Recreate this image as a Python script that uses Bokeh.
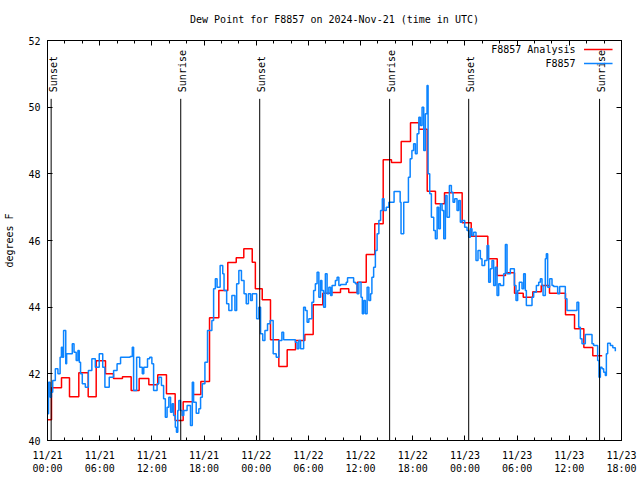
import numpy as np
from bokeh.plotting import figure
from bokeh.models import FixedTicker, LinearAxis, Range1d, Label, Arrow, CustomLabelingPolicy
from bokeh.core.properties import value
from bokeh.embed import file_html
from bokeh.resources import INLINE

FONT = "DejaVu Sans Mono"

# ---------------- data ----------------
title_text = "Dew Point for F8857 on 2024-Nov-21 (time in UTC)"
y_label = "degrees F"

# x axis: hours since 2024-11-21 00:00 UTC
x_major = [0, 6, 12, 18, 24, 30, 36, 42, 48, 54, 60, 66]
x_labels = ["11/21\n00:00", "11/21\n06:00", "11/21\n12:00", "11/21\n18:00",
            "11/22\n00:00", "11/22\n06:00", "11/22\n12:00", "11/22\n18:00",
            "11/23\n00:00", "11/23\n06:00", "11/23\n12:00", "11/23\n18:00"]
x_minor = list(range(0, 67, 2))
y_ticks = [40, 42, 44, 46, 48, 50, 52]

event_hours = [0.42, 15.32, 24.40, 39.34, 48.43, 63.48]
event_names = ["Sunset", "Sunrise", "Sunset", "Sunrise", "Sunset", "Sunrise"]

# F8857 Analysis (hourly analysis, step changes)
red_t = [0.0, 0.46, 1.61, 2.53, 3.6, 4.68, 5.6, 6.67, 7.59, 8.62, 9.62, 10.54,
         11.65, 12.68, 13.68, 14.68, 15.6, 16.71, 17.63, 18.63, 19.7, 20.73,
         21.7, 22.57, 23.54, 23.9, 24.69, 25.64, 26.6, 27.56, 28.52, 29.59,
         30.55, 31.65, 32.65, 33.69, 34.64, 35.61, 36.65, 37.63, 38.6, 39.55,
         40.67, 41.74, 42.69, 43.66, 44.61, 45.65, 46.68, 47.68, 48.72, 49.67,
         50.63, 51.71, 52.66, 53.7, 54.7, 55.8, 56.77, 57.72, 58.64, 59.56,
         60.6, 61.67, 62.7, 63.78]
red_v = [40.62, 41.58, 41.88, 41.31, 42.03, 41.31, 42.39, 42.0, 41.86, 41.91, 41.5, 41.86,
         41.67, 41.97, 41.4, 40.6, 41.16, 41.38, 41.77, 43.68, 44.5, 45.34,
         45.48, 45.75, 45.35, 44.55, 44.22, 43.02, 42.22, 42.72, 43.0, 43.18,
         44.07, 44.42, 44.44, 44.55, 44.44, 44.75, 45.58, 46.5, 48.42, 48.34,
         48.97, 49.53, 49.34, 47.48, 47.1, 47.43, 47.43, 46.53, 46.13, 46.13,
         45.45, 44.95, 45.03, 44.42, 44.3, 44.46, 44.65, 44.42, 44.42, 43.77,
         43.35, 42.79, 42.54, 42.54]

# F8857 observations
blue_t = [0.0, 0.12, 0.3, 0.45, 0.6, 0.9, 1.2, 1.45, 1.6, 1.72, 1.85, 2.1, 2.2, 2.85,
          3.05, 3.3, 3.5, 3.65, 3.8, 4.0, 4.35, 4.7, 5.1, 5.5, 5.95, 6.35, 6.6, 7.1,
          7.6, 8.0, 8.4, 9.5, 9.75, 9.9, 10.25, 10.6, 10.9, 11.07, 11.5, 11.75, 12.0,
          12.2, 12.6, 12.8, 13.1, 13.35, 13.55, 13.75, 13.95, 14.15, 14.33, 14.5,
          14.7, 14.83, 14.98, 15.1, 15.3, 15.48, 15.67, 16.05, 16.44, 16.65, 16.8,
          17.1, 17.4, 17.6, 17.8, 18.1, 18.4, 18.9, 19.1, 19.3, 19.5, 19.85, 20.15,
          20.3, 20.6, 20.85, 21.2, 21.55, 21.75, 22.0, 22.3, 22.6, 22.85, 23.1,
          23.35, 23.55, 24.05, 24.3, 24.5, 24.75, 25.0, 25.3, 25.6, 25.95, 26.3,
          26.6, 26.95, 27.15, 28.5, 28.7, 28.9, 29.1, 29.45, 29.65, 29.85, 30.05,
          30.4, 30.6, 30.8, 31.0, 31.2, 31.4, 31.55, 31.75, 31.95, 32.15, 32.35,
          32.55, 32.72, 33.1, 33.3, 33.5, 33.7, 34.35, 34.5, 35.2, 35.4, 35.6, 35.8,
          36.05, 36.2, 36.36, 36.55, 36.75, 36.95, 37.15, 37.3, 37.5, 37.7, 37.9,
          38.1, 38.3, 38.5, 38.7, 38.95, 39.25, 39.85, 40.55, 40.65, 40.96, 41.5,
          41.7, 41.9, 42.1, 42.3, 42.5, 42.7, 42.88, 43.07, 43.26, 43.45, 43.64,
          43.76, 43.95, 44.14, 44.41, 44.6, 44.8, 44.98, 45.17, 45.37, 45.56,
          45.75, 45.94, 46.21, 46.44, 46.63, 46.82, 47.09, 47.28, 47.47, 47.66,
          47.97, 48.24, 48.43, 48.62, 48.81, 49.0, 49.27, 49.5, 49.77, 49.96,
          50.27, 50.54, 50.73, 50.92, 51.11, 51.3, 51.5, 51.69, 51.88, 52.07,
          52.45, 52.65, 52.84, 53.22, 53.68, 53.87, 54.06, 54.25, 54.56, 54.75,
          54.94, 55.06, 55.71, 55.9, 56.21, 56.48, 56.67, 56.86, 56.98, 57.24,
          57.36, 57.51, 57.74, 58.01, 58.2, 58.66, 58.89, 59.54, 59.73, 60.88,
          61.08, 61.27, 61.46, 61.84, 62.61, 62.8, 63.26, 63.41, 63.57, 63.76,
          63.95, 64.14, 64.26, 64.41, 64.72, 65.0, 65.29]
blue_v = [40.8, 41.75, 41.3, 41.45, 41.8, 42.15, 42.0, 42.5, 42.8, 42.5, 43.3, 42.3, 42.6, 42.9,
          42.65, 42.4, 42.7, 42.35, 42.0, 41.7, 41.6, 42.1, 42.45, 42.2, 42.6, 42.2, 41.6, 41.9,
          42.1, 42.3, 42.5, 42.52, 42.8, 41.5, 42.5, 42.2, 42.0, 42.2, 42.45, 42.5, 42.3,
          41.5, 41.7, 41.9, 41.65, 41.25, 40.7, 41.0, 41.3, 40.85, 41.1, 40.75,
          40.4, 40.25, 40.9, 41.2, 40.9, 40.75, 40.9, 41.05, 40.45, 41.75, 41.15,
          40.82, 40.95, 41.3, 41.7, 42.35, 43.3, 43.6, 44.55, 44.85, 44.6, 45.25, 45.0,
          44.5, 44.1, 43.9, 44.35, 43.9, 44.7, 45.1, 44.8, 44.4, 44.1, 44.4,
          44.2, 44.4, 43.65, 44.0, 43.2, 43.0, 43.3, 43.5, 43.6, 42.6, 42.5,
          43.0, 43.25, 43.02, 42.95, 42.75, 43.0, 42.75, 44.0, 43.9, 43.55, 43.65,
          44.15, 44.5, 44.7, 45.05, 44.3, 44.8, 44.5, 44.0, 45.0, 44.4, 44.6,
          44.35, 44.65, 44.8, 44.9, 44.65, 44.68, 44.75, 44.88, 44.75, 44.7, 44.4, 44.75,
          44.3, 43.8, 44.2, 43.8, 44.6, 44.2, 44.4, 44.9, 45.2, 45.7, 46.2,
          46.6, 46.9, 47.25, 46.9, 47.0, 47.15, 47.47, 47.15, 46.2, 47.15, 47.9,
          48.45, 48.7, 48.9, 48.6, 49.2, 49.7, 49.45, 50.0, 48.7, 49.8, 50.65,
          48.0, 47.4, 46.7, 46.3, 46.05, 47.0, 46.35, 47.1, 46.9, 46.05,
          47.35, 46.7, 47.65, 47.45, 47.15, 47.25, 46.9, 47.2, 46.55, 46.6,
          46.4, 46.3, 46.1, 46.35, 46.15, 46.25, 45.4, 45.7, 45.45, 45.25,
          45.4, 45.85, 44.75, 45.15, 45.4, 44.65, 45.2, 44.35, 44.7, 44.65,
          45.0, 45.88, 45.0, 45.15, 44.65, 44.2, 44.5, 44.75, 44.55, 45.0,
          44.5, 44.05, 44.3, 44.45, 44.65, 44.75, 44.85, 44.65, 44.35, 45.45,
          45.6, 44.6, 44.85, 44.65, 44.62, 44.4, 44.62, 44.25, 43.9, 44.15,
          43.4, 43.05, 42.9, 43.18, 42.9, 42.85, 42.4, 41.9, 42.2, 42.15,
          42.05, 41.95, 42.6, 42.92, 42.85, 42.78, 42.68]

series_names = ["F8857 Analysis", "F8857"]
series_colors = ["#ff0000", "#0c84ff"]

# ---------------- figure ----------------
p = figure(frame_width=574, frame_height=400,
           x_range=Range1d(0, 66), y_range=Range1d(40, 52),
           output_backend="svg", toolbar_location=None,
           min_border_left=47, min_border_right=17,
           min_border_top=40, min_border_bottom=38,
           background_fill_color="white", border_fill_color="white")
p.grid.visible = False
p.outline_line_color = "black"
p.outline_line_width = 1

p.title.text = title_text
p.title.align = "center"
p.title.text_font = FONT
p.title.text_font_size = "10px"
p.title.text_font_style = "normal"
p.title.text_color = "black"
p.title.standoff = 10

xt = FixedTicker(ticks=x_major, minor_ticks=x_minor)
yt = FixedTicker(ticks=y_ticks, minor_ticks=[])

def style_axis(ax, ticker):
    ax.ticker = ticker
    ax.axis_line_color = "black"
    ax.major_tick_line_color = "black"
    ax.minor_tick_line_color = "black"
    ax.major_tick_in = 5
    ax.major_tick_out = 0
    ax.minor_tick_in = 3
    ax.minor_tick_out = 0
    ax.major_label_text_font = FONT
    ax.major_label_text_font_size = "10px"
    ax.major_label_text_color = "black"

xa = p.xaxis[0]
style_axis(xa, xt)
xa.major_label_overrides = {h: lab for h, lab in zip(x_major, x_labels)}
xa.major_label_text_line_height = 1.2
xa.major_label_standoff = 9

ya = p.yaxis[0]
style_axis(ya, yt)
ya.major_label_standoff = 7
ya.axis_label = y_label
ya.axis_label_text_font = FONT
ya.axis_label_text_font_size = "10px"
ya.axis_label_text_font_style = "normal"
ya.axis_label_text_color = "black"
ya.axis_label_standoff = 10

top = LinearAxis()
style_axis(top, FixedTicker(ticks=x_major, minor_ticks=x_minor))
top.major_label_policy = CustomLabelingPolicy(code="return new Set()")
top.major_label_standoff = 0
p.add_layout(top, "above")
right = LinearAxis()
style_axis(right, FixedTicker(ticks=y_ticks, minor_ticks=[]))
right.major_label_policy = CustomLabelingPolicy(code="return new Set()")
right.major_label_standoff = 0
p.add_layout(right, "right")

# data lines
p.step(x=red_t, y=red_v, mode="after", line_color=series_colors[0], line_width=1.5)
p.step(x=blue_t, y=blue_v, mode="after", line_color=series_colors[1], line_width=1.5)

# sunrise / sunset markers
line_top = 50.25
label_y = 50.45
p.segment(x0=event_hours, y0=[40] * len(event_hours), x1=event_hours,
          y1=[line_top] * len(event_hours), line_color="black", line_width=1)
p.text(x=event_hours, y=[label_y] * len(event_hours), text=event_names,
       angle=np.pi / 2, text_align="left", text_baseline="middle",
       text_font=value(FONT), text_font_size="10px", text_color="black", x_offset=2)

# legend (gnuplot style: text right-aligned, sample to the right)
leg_text_x = 60.71
leg_line_x0, leg_line_x1 = 61.69, 64.97
leg_y = [51.73, 51.31]
for name, col, yy in zip(series_names, series_colors, leg_y):
    p.add_layout(Label(x=leg_text_x, y=yy, text=name, text_align="right",
                       text_baseline="middle", text_font=FONT,
                       text_font_size="10px", text_color="black"))
    p.add_layout(Arrow(end=None, x_start=leg_line_x0, y_start=yy, x_end=leg_line_x1,
                       y_end=yy, line_color=col, line_width=1.5))

open("out.html", "w").write(file_html(p, INLINE))
